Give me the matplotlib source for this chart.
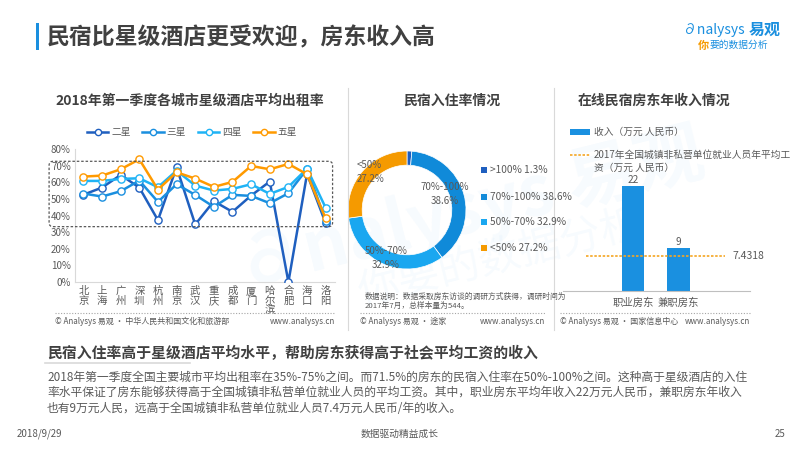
import matplotlib
matplotlib.use("Agg")
import matplotlib.pyplot as plt
from matplotlib.lines import Line2D
from matplotlib.patches import FancyBboxPatch, Rectangle
import matplotlib.transforms as mtransforms

plt.rcParams['font.family'] = ['Noto Sans CJK SC', 'DejaVu Sans']

# ---------------- data ----------------
cities = ["北京", "上海", "广州", "深圳", "杭州", "南京", "武汉", "重庆", "成都", "厦门", "哈尔滨", "合肥", "海口", "洛阳"]
star2 = [52.5, 56.8, 64.4, 56.8, 37.2, 69.0, 34.6, 48.6, 42.2, 52.0, 60.4, 0.0, 65.0, 35.4]
star3 = [53.2, 51.4, 54.6, 61.0, 48.2, 58.8, 52.4, 45.2, 52.4, 51.8, 47.4, 53.4, 68.0, 36.8]
star4 = [60.8, 60.8, 62.0, 62.4, 57.0, 67.0, 58.0, 55.0, 56.0, 58.8, 53.0, 57.2, 68.2, 44.6]
star5 = [63.4, 64.0, 67.8, 73.8, 55.6, 66.0, 62.2, 57.2, 60.2, 69.8, 67.8, 71.0, 64.8, 38.2]
series_names = ["二星", "三星", "四星", "五星"]
series_colors = ["#1f5fbf", "#1a8fdf", "#1fb3f5", "#ff9a00"]
highlight_range = (33.3, 72.6)
y_ticks = [0, 10, 20, 30, 40, 50, 60, 70, 80]

donut_labels = [">100%", "70%-100%", "50%-70%", "<50%"]
donut_values = [1.3, 38.6, 32.9, 27.2]
donut_colors = ["#1f5fbf", "#108ad9", "#1aa7f0", "#f59a00"]

bar_cats = ["职业房东", "兼职房东"]
bar_vals = [22, 9]
avg_wage = 7.4318

TXT = "#404040"
TXT2 = "#595959"

fig = plt.figure(figsize=(8, 4.5), dpi=100)
fig.patch.set_facecolor("white")


def P(x, y):
    return (x / 800.0, 1 - y / 450.0)


def ax_px(l, t, r, b):
    a = fig.add_axes([l / 800.0, 1 - b / 450.0, (r - l) / 800.0, (b - t) / 450.0])
    a.patch.set_alpha(0)
    return a


def ftext(x, y, s, **kw):
    kw.setdefault("color", TXT2)
    kw.setdefault("va", "center")
    fig.text(*P(x, y), s, **kw)

# ---------------- watermark ----------------
fig.text(*P(470, 212), "∂nalysys 易观", rotation=14, fontsize=50, color="#1f8fe0",
         alpha=0.035, ha="center", va="center", zorder=-5, fontweight="bold")
fig.text(*P(500, 258), "你要的数据分析", rotation=14, fontsize=30, color="#1f8fe0",
         alpha=0.035, ha="center", va="center", zorder=-5)

# ---------------- header ----------------
fig.patches.append(Rectangle(P(36, 50), 2.5 / 800, 27 / 450, transform=fig.transFigure,
                             facecolor="#1a8fdf", edgecolor="none"))
ftext(47, 38, "民宿比星级酒店更受欢迎，房东收入高", fontsize=16.5, fontweight="bold", color=TXT)
ftext(683, 30, "∂nalysys", fontsize=10, color="#1a8fdf", style="italic")
ftext(749, 30, "易观", fontsize=11.5, color="#1a8fdf", fontweight="bold")
ftext(698, 45, "你", fontsize=8, color="#f59a00", fontweight="bold")
ftext(709, 45, "要的数据分析", fontsize=7, color="#1a8fdf", style="italic")

ftext(190, 101, "2018年第一季度各城市星级酒店平均出租率", fontsize=10, fontweight="bold", color=TXT, ha="center")
ftext(452, 101, "民宿入住率情况", fontsize=10, fontweight="bold", color=TXT, ha="center")
ftext(654, 101, "在线民宿房东年收入情况", fontsize=10, fontweight="bold", color=TXT, ha="center")

for xs in (348, 554):
    fig.add_artist(Line2D([xs / 800, xs / 800], [1 - 88 / 450, 1 - 330 / 450],
                          transform=fig.transFigure, color="#d9d9d9", lw=0.8))
for x0, x1 in ((55, 335), (360, 545), (560, 750)):
    fig.add_artist(Line2D([x0 / 800, x1 / 800], [1 - 313 / 450, 1 - 313 / 450],
                          transform=fig.transFigure, color="#a6a6a6", lw=0.8, ls=(0, (1, 1.5))))

# ---------------- line chart ----------------
ax = ax_px(75, 149, 335, 282)
xs = list(range(len(cities)))
for name, vals, col in zip(series_names, [star2, star3, star4, star5], series_colors):
    ax.plot(xs, vals, color=col, lw=1.8, marker="o", ms=5.2, mfc="white", mec=col, mew=1.0,
            label=name, zorder=3)
ax.set_xlim(-0.45, 13.5)
ax.set_ylim(0, 80)
ax.set_yticks(y_ticks)
ax.set_yticklabels([f"{v}%" for v in y_ticks], fontsize=7, color=TXT2)
ax.set_xticks(xs)
ax.set_xticklabels(["\n".join(c) for c in cities], fontsize=7.5, color=TXT2, linespacing=0.95, va="top")
ax.tick_params(length=0, pad=3)
for s in ("top", "right"):
    ax.spines[s].set_visible(False)
for s in ("left", "bottom"):
    ax.spines[s].set_color("#d9d9d9")
    ax.spines[s].set_linewidth(0.8)

fig.canvas.draw()
x_left_px = ax.transData.transform((-1.84, 0))[0]
x_right_px = ax.transData.transform((13.37, 0))[0]
y_lo_px = ax.transData.transform((0, highlight_range[0]))[1]
y_hi_px = ax.transData.transform((0, highlight_range[1]))[1]
box = FancyBboxPatch((x_left_px, y_lo_px), x_right_px - x_left_px, y_hi_px - y_lo_px,
                     boxstyle="round,pad=0,rounding_size=4", transform=None,
                     fill=False, edgecolor="#595959", lw=0.9, ls=(0, (2, 1.5)), zorder=5)
fig.add_artist(box)

handles = [Line2D([0], [0], color=c, lw=1.8, marker="o", ms=4.5, mfc="white", mec=c)
           for c in series_colors]
fig.legend(handles, series_names, loc="center", bbox_to_anchor=P(192, 132), ncol=4, frameon=False,
           fontsize=7, handlelength=2.2, columnspacing=1.2, handletextpad=0.3, labelcolor=TXT2)

ftext(55, 321, "© Analysys 易观 · 中华人民共和国文化和旅游部", fontsize=5.8)
ftext(335, 321, "www.analysys.cn", fontsize=5.8, ha="right")

# ---------------- donut ----------------
axd = ax_px(348, 151, 466, 269)
axd.pie(donut_values, colors=donut_colors, startangle=90, counterclock=False, radius=1,
        wedgeprops=dict(width=0.24, edgecolor="white", linewidth=0.5))
axd.set_xlim(-1, 1)
axd.set_ylim(-1, 1)
axd.set_aspect("equal")
axd.axis("off")

ftext(357, 172, f"{donut_labels[3]}\n{donut_values[3]}%", fontsize=7, linespacing=1.4)
ftext(445, 194, f"{donut_labels[1]}\n{donut_values[1]}%", fontsize=7, ha="center", linespacing=1.4)
ftext(386, 258, f"{donut_labels[2]}\n{donut_values[2]}%", fontsize=7, ha="center", linespacing=1.4)

leg_y = [170, 197, 222, 248]
for lab, val, col, yy in zip(donut_labels, donut_values, donut_colors, leg_y):
    fig.patches.append(Rectangle(P(481, yy + 3), 6 / 800, 6 / 450, transform=fig.transFigure,
                                 facecolor=col, edgecolor="none"))
    ftext(490, yy, f"{lab} {val}%", fontsize=7.3)

ftext(365, 297, "数据说明：数据采取房东访谈的调研方式获得，调研时间为", fontsize=5.6)
ftext(365, 306, "2017年7月，总样本量为544。", fontsize=5.6)
ftext(360, 321, "© Analysys 易观 · 途家", fontsize=5.8)
ftext(545, 321, "www.analysys.cn", fontsize=5.8, ha="right")

# ---------------- bar chart ----------------
axb = ax_px(563, 148, 750, 291)
bx = list(range(len(bar_cats)))
axb.bar(bx, bar_vals, width=0.5, color="#1a90e0", zorder=2)
for xx, v in zip(bx, bar_vals):
    axb.text(xx, v + 0.3, f"{v}", ha="center", va="bottom", fontsize=7.2, color=TXT2)
axb.set_xlim(-1.54, 2.57)
axb.set_ylim(0, 30)
axb.axhline(avg_wage, xmin=0.123, xmax=0.866, color="#f5a623", lw=1.2, ls=(0, (1.5, 1)), zorder=3)
trans = mtransforms.blended_transform_factory(axb.transAxes, axb.transData)
axb.text(0.905, avg_wage, f"{avg_wage}", transform=trans, fontsize=7.5, color=TXT2, va="center")
axb.set_xticks(bx)
axb.set_xticklabels(bar_cats, fontsize=7.5, color=TXT2)
axb.set_yticks([])
axb.tick_params(length=0, pad=5)
for s in ("top", "right", "left"):
    axb.spines[s].set_visible(False)
axb.spines["bottom"].set_color("#bfbfbf")
axb.spines["bottom"].set_linewidth(0.8)

fig.patches.append(Rectangle(P(570, 135), 20 / 800, 6 / 450, transform=fig.transFigure,
                             facecolor="#1a90e0", edgecolor="none"))
ftext(594, 132, "收入（万元 人民币）", fontsize=7)
fig.add_artist(Line2D([570 / 800, 590 / 800], [1 - 155 / 450, 1 - 155 / 450], transform=fig.transFigure,
                      color="#f5a623", lw=1.2, ls=(0, (1.5, 1))))
ftext(594, 155, "2017年全国城镇非私营单位就业人员年平均工", fontsize=7)
ftext(594, 168, "资（万元 人民币）", fontsize=7)

ftext(560, 321, "© Analysys 易观 · 国家信息中心", fontsize=5.8)
ftext(750, 321, "www.analysys.cn", fontsize=5.8, ha="right")

# ---------------- bottom text ----------------
ftext(47, 353, "民宿入住率高于星级酒店平均水平，帮助房东获得高于社会平均工资的收入",
      fontsize=10.7, fontweight="bold", color=TXT)
fig.add_artist(Line2D([45 / 800, 190 / 800], [1 - 363 / 450, 1 - 363 / 450], transform=fig.transFigure,
                      color="#d9d9d9", lw=1.2))
para = [
    "2018年第一季度全国主要城市平均出租率在35%-75%之间。而71.5%的房东的民宿入住率在50%-100%之间。这种高于星级酒店的入住",
    "率水平保证了房东能够获得高于全国城镇非私营单位就业人员的平均工资。其中，职业房东平均年收入22万元人民币，兼职房东年收入",
    "也有9万元人民，远高于全国城镇非私营单位就业人员7.4万元人民币/年的收入。",
]
for i, line in enumerate(para):
    ftext(47, 377 + i * 15.5, line, fontsize=8.5)

ftext(17, 434, "2018/9/29", fontsize=7)
ftext(400, 434, "数据驱动精益成长", fontsize=7, ha="center")
ftext(785, 434, "25", fontsize=7, ha="right")

fig.savefig("out.png", dpi=100)
